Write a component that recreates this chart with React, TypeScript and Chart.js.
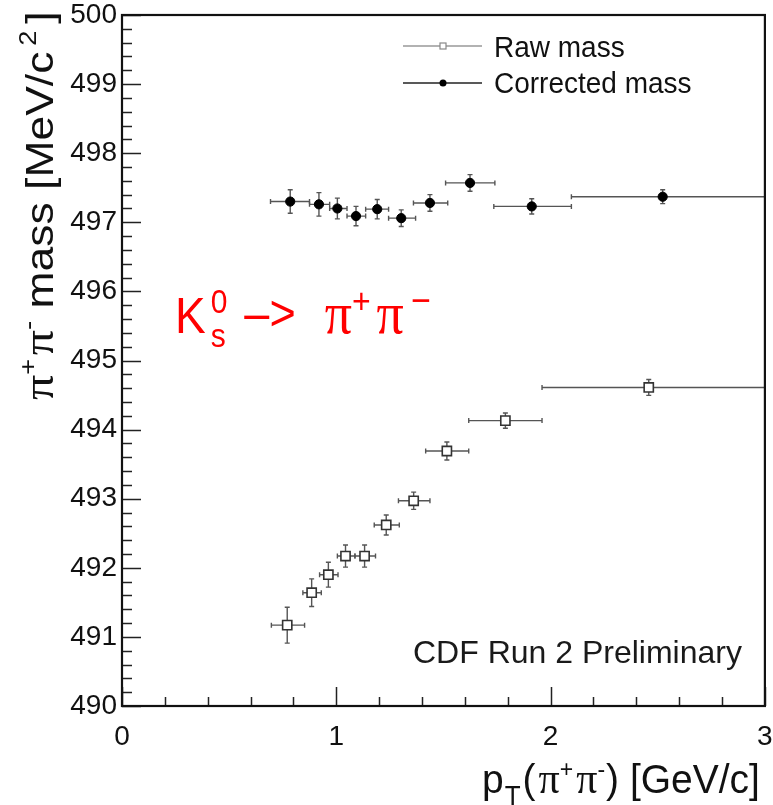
import React, { useEffect, useRef } from 'react';
import { Chart, registerables } from 'chart.js';
Chart.register(...registerables);

// ---- data ----
const rawPt = [0.771, 0.885, 0.963, 1.043, 1.132, 1.233, 1.361, 1.516, 1.789, 2.458];
const rawLo = [0.697, 0.844, 0.922, 1.005, 1.087, 1.177, 1.29, 1.417, 1.618, 1.96];
const rawHi = [0.852, 0.93, 1.008, 1.087, 1.183, 1.294, 1.437, 1.618, 1.96, 3.0];
const rawMass = [491.17, 491.64, 491.9, 492.17, 492.17, 492.62, 492.97, 493.69, 494.13, 494.61];
const rawErr = [0.26, 0.2, 0.18, 0.16, 0.16, 0.145, 0.125, 0.13, 0.11, 0.115];

const corPt = [0.785, 0.919, 1.005, 1.092, 1.191, 1.303, 1.437, 1.624, 1.912, 2.523];
const corLo = [0.693, 0.875, 0.969, 1.05, 1.137, 1.244, 1.36, 1.51, 1.735, 2.097];
const corHi = [0.875, 0.969, 1.05, 1.137, 1.244, 1.37, 1.52, 1.74, 2.097, 3.0];
const corMass = [497.3, 497.26, 497.2, 497.09, 497.19, 497.06, 497.28, 497.57, 497.23, 497.37];
const corErr = [0.17, 0.17, 0.15, 0.14, 0.14, 0.12, 0.12, 0.12, 0.11, 0.1];

const xMin = 0, xMax = 3, xStep = 1, xMinorDiv = 5;
const yMin = 490, yMax = 500, yStep = 1, yMinorDiv = 5;

const seriesNames = ['Raw mass', 'Corrected mass'];
const expLabel = 'CDF Run 2 Preliminary';

const SANS = "'Liberation Sans', Arial, Helvetica, sans-serif";
const SERIF = "'Liberation Serif', 'Times New Roman', serif";

type Seg = { t: string; size: number; dy?: number; fam?: string; gap?: number; stack?: boolean };

function drawRich(ctx: CanvasRenderingContext2D, segs: Seg[]) {
  let x = 0;
  let prevStart = 0;
  let prevEnd = 0;
  ctx.textBaseline = 'alphabetic';
  ctx.textAlign = 'left';
  for (const s of segs) {
    ctx.font = `${s.size}px ${s.fam || SANS}`;
    const w = ctx.measureText(s.t).width;
    let start: number;
    if (s.stack) {
      start = prevStart;
      ctx.fillText(s.t, start, s.dy || 0);
      prevEnd = Math.max(prevEnd, start + w);
      x = prevEnd;
    } else {
      start = x + (s.gap || 0);
      ctx.fillText(s.t, start, s.dy || 0);
      prevStart = start;
      prevEnd = start + w;
      x = prevEnd;
    }
  }
  return x;
}

const decorPlugin = {
  id: 'decor',
  beforeDatasetsDraw(chart: any) {
    const ctx: CanvasRenderingContext2D = chart.ctx;
    const xs = chart.scales.x;
    const ys = chart.scales.y;
    const sets = [
      { pt: rawPt, lo: rawLo, hi: rawHi, m: rawMass, e: rawErr, col: '#555' },
      { pt: corPt, lo: corLo, hi: corHi, m: corMass, e: corErr, col: '#555' },
    ];
    ctx.save();
    const cap = 2.5;
    for (const s of sets) {
      ctx.strokeStyle = s.col;
      ctx.lineWidth = 1.4;
      for (let i = 0; i < s.pt.length; i++) {
        const y = ys.getPixelForValue(s.m[i]);
        const xl = xs.getPixelForValue(s.lo[i]);
        const xh = xs.getPixelForValue(s.hi[i]);
        const xc = xs.getPixelForValue(s.pt[i]);
        const yt = ys.getPixelForValue(s.m[i] + s.e[i]);
        const yb = ys.getPixelForValue(s.m[i] - s.e[i]);
        ctx.beginPath();
        ctx.moveTo(xl, y); ctx.lineTo(xh, y);
        ctx.moveTo(xl, y - cap); ctx.lineTo(xl, y + cap);
        ctx.moveTo(xh, y - cap); ctx.lineTo(xh, y + cap);
        ctx.moveTo(xc, yt); ctx.lineTo(xc, yb);
        ctx.moveTo(xc - cap, yt); ctx.lineTo(xc + cap, yt);
        ctx.moveTo(xc - cap, yb); ctx.lineTo(xc + cap, yb);
        ctx.stroke();
      }
    }
    ctx.restore();
  },
  afterDraw(chart: any) {
    const ctx: CanvasRenderingContext2D = chart.ctx;
    const a = chart.chartArea;
    const xs = chart.scales.x;
    const ys = chart.scales.y;
    ctx.save();
    // axis ticks (inside)
    ctx.strokeStyle = '#222';
    ctx.lineWidth = 1.5;
    ctx.beginPath();
    const nx = ((xMax - xMin) / xStep) * xMinorDiv;
    for (let i = 0; i <= nx; i++) {
      const v = xMin + (i * xStep) / xMinorDiv;
      const px = Math.round(xs.getPixelForValue(v)) + 0.5;
      const len = i % xMinorDiv === 0 ? 19 : 9;
      ctx.moveTo(px, a.bottom);
      ctx.lineTo(px, a.bottom - len);
    }
    const ny = ((yMax - yMin) / yStep) * yMinorDiv;
    for (let i = 0; i <= ny; i++) {
      const v = yMin + (i * yStep) / yMinorDiv;
      const py = Math.round(ys.getPixelForValue(v)) + 0.5;
      const len = i % yMinorDiv === 0 ? 19 : 10;
      ctx.moveTo(a.left, py);
      ctx.lineTo(a.left + len, py);
    }
    ctx.stroke();
    // frame
    ctx.strokeStyle = '#111';
    ctx.lineWidth = 2.2;
    ctx.strokeRect(a.left, a.top, a.right - a.left, a.bottom - a.top);

    // legend
    const lx0 = a.left + 281, lx1 = a.left + 360, lmx = a.left + 321, ltx = a.left + 372;
    ctx.lineWidth = 1.5;
    ctx.strokeStyle = '#999';
    ctx.beginPath(); ctx.moveTo(lx0, a.top + 31); ctx.lineTo(lx1, a.top + 31); ctx.stroke();
    ctx.fillStyle = '#fff';
    ctx.fillRect(lmx - 3, a.top + 31 - 3, 6, 6);
    ctx.strokeStyle = '#888';
    ctx.lineWidth = 1.2;
    ctx.strokeRect(lmx - 3, a.top + 31 - 3, 6, 6);
    ctx.strokeStyle = '#222';
    ctx.lineWidth = 1.5;
    ctx.beginPath(); ctx.moveTo(lx0, a.top + 68); ctx.lineTo(lx1, a.top + 68); ctx.stroke();
    ctx.fillStyle = '#000';
    ctx.beginPath(); ctx.arc(lmx, a.top + 68, 3.5, 0, Math.PI * 2); ctx.fill();

    ctx.fillStyle = '#111';
    ctx.save(); ctx.translate(ltx, a.top + 42); ctx.scale(1, 1.08);
    drawRich(ctx, [{ t: seriesNames[0], size: 28 }]); ctx.restore();
    ctx.save(); ctx.translate(ltx, a.top + 78); ctx.scale(1, 1.08);
    drawRich(ctx, [{ t: seriesNames[1], size: 28 }]); ctx.restore();

    // process label (red)
    ctx.fillStyle = '#ff0000';
    ctx.save(); ctx.translate(a.left + 53, 333); ctx.scale(1, 1.1);
    drawRich(ctx, [
      { t: 'K', size: 46 },
      { t: '0', size: 30, dy: -18, gap: 5 },
      { t: 's', size: 30, dy: 13, stack: true },
      { t: '\u2013>', size: 45, dy: -3, gap: 17 },
      { t: '\u03c0', size: 54, fam: SERIF, gap: 29 },
      { t: '+', size: 32, dy: -18, gap: 0 },
      { t: '\u03c0', size: 54, fam: SERIF, gap: 6 },
      { t: '\u2212', size: 34, dy: -18, gap: 7 },
    ]);
    ctx.restore();

    // experiment label
    ctx.fillStyle = '#1a1a1a';
    ctx.font = `32px ${SANS}`;
    ctx.textAlign = 'left';
    ctx.textBaseline = 'alphabetic';
    ctx.fillText(expLabel, a.left + 291, 663);

    // x title
    ctx.fillStyle = '#111';
    ctx.save(); ctx.translate(482, 793); ctx.scale(1, 1.04);
    drawRich(ctx, [
      { t: 'p', size: 39 },
      { t: 'T', size: 26, dy: 12, gap: 1 },
      { t: '(', size: 39, gap: 2 },
      { t: '\u03c0', size: 42, fam: SERIF, gap: 3 },
      { t: '+', size: 23, dy: -15 },
      { t: '\u03c0', size: 42, fam: SERIF, gap: 3 },
      { t: '-', size: 23, dy: -15 },
      { t: ')', size: 39, gap: 1 },
      { t: ' [GeV/c]', size: 39 },
    ]);
    ctx.restore();

    // y title
    ctx.save(); ctx.translate(53, 400); ctx.rotate(-Math.PI / 2); ctx.scale(1.14, 1);
    drawRich(ctx, [
      { t: '\u03c0', size: 44, fam: SERIF },
      { t: '+', size: 24, dy: -17 },
      { t: '\u03c0', size: 44, fam: SERIF, gap: 3 },
      { t: '-', size: 24, dy: -17 },
      { t: ' mass [MeV/c', size: 39 },
      { t: '2', size: 24, dy: -17, gap: 5 },
      { t: ']', size: 39, gap: 6 },
    ]);
    ctx.restore();
    ctx.restore();
  },
};

export default function App() {
  const ref = useRef<HTMLCanvasElement | null>(null);
  useEffect(() => {
    if (!ref.current) return;
    const chart = new Chart(ref.current, {
      type: 'scatter',
      data: {
        datasets: [
          {
            label: seriesNames[0],
            data: rawPt.map((x, i) => ({ x, y: rawMass[i] })),
            pointStyle: 'rect',
            pointRadius: 6.5,
            pointBorderWidth: 1.6,
            borderColor: '#333',
            backgroundColor: '#fff',
            showLine: false,
          },
          {
            label: seriesNames[1],
            data: corPt.map((x, i) => ({ x, y: corMass[i] })),
            pointStyle: 'circle',
            pointRadius: 4.6,
            pointBorderWidth: 1,
            borderColor: '#000',
            backgroundColor: '#000',
            showLine: false,
          },
        ],
      },
      options: {
        responsive: false,
        animation: false,
        events: [],
        layout: { padding: { top: 15, right: 8, left: 0, bottom: 0 } },
        plugins: { legend: { display: false }, tooltip: { enabled: false } },
        scales: {
          x: {
            type: 'linear',
            min: xMin,
            max: xMax,
            grid: { display: false, drawTicks: false },
            border: { display: false },
            ticks: {
              stepSize: xStep,
              color: '#111',
              padding: 14,
              font: { family: SANS, size: 28 },
              maxRotation: 0,
            },
            afterFit: (s: any) => { s.height = 99; s.paddingLeft = 0; s.paddingRight = 0; },
          },
          y: {
            type: 'linear',
            min: yMin,
            max: yMax,
            grid: { display: false, drawTicks: false },
            border: { display: false },
            ticks: {
              stepSize: yStep,
              color: '#111',
              padding: 5,
              font: { family: SANS, size: 28 },
            },
            afterFit: (s: any) => { s.width = 122; s.paddingTop = 0; s.paddingBottom = 0; },
          },
        },
      },
      plugins: [decorPlugin],
    });
    return () => chart.destroy();
  }, []);
  return (
    <div style={{ position: 'absolute', left: 0, top: 0, width: 773, height: 805, background: '#fff' }}>
      <canvas ref={ref} width={773} height={805} style={{ display: 'block' }} />
    </div>
  );
}
